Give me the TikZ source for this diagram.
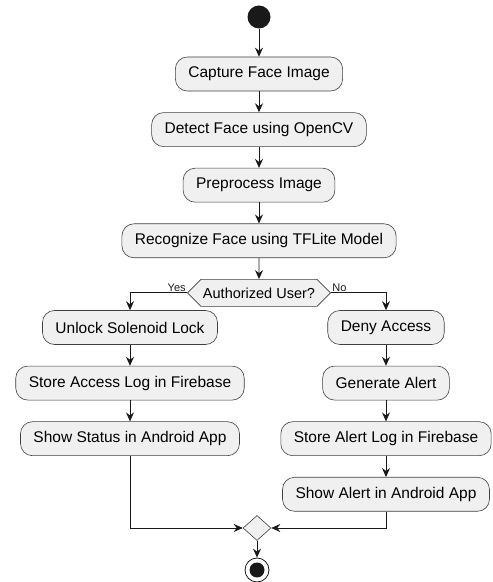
\documentclass[tikz,border=0pt]{standalone}
\usepackage{fontspec}
\setmainfont{Liberation Sans}
\usetikzlibrary{positioning,arrows.meta,shapes.geometric,shapes.symbols}

\tikzset{
  act/.style={draw=black!75, line width=0.6pt, fill=black!6, rounded corners=12pt,
    minimum height=34pt, inner xsep=13pt, font=\fontsize{15.5}{18}\selectfont},
  flow/.style={-{Stealth[length=9pt,width=8pt,inset=3pt]}, line width=0.9pt, black!90},
}

\begin{document}
\begin{tikzpicture}[auto, node distance=21pt]
        \useasboundingbox (0,0) rectangle (493pt,582pt);
        % Define states
        \node[circle, fill=black!90, minimum size=23pt, inner sep=0pt] (Start) at (259pt,565pt) {};
        \node[act] (Capture) [below=28pt of Start] {Capture Face Image};
        \node[act] (Detect) [below=of Capture] {Detect Face using OpenCV};
        \node[act] (Preprocess) [below=of Detect] {Preprocess Image};
        \node[act] (Recognize) [below=of Preprocess] {Recognize Face using TFLite Model};
        \node[signal, signal to=west and east, draw=black!75, line width=0.6pt, fill=black!6,
          minimum height=27pt, inner xsep=2pt, font=\fontsize{14.5}{17}\selectfont] (Auth) [below=of Recognize] {Authorized User?};

        % yes branch
        \node[act] (Unlock) at (130pt,254.5pt) {Unlock Solenoid Lock};
        \node[act] (StoreLog) [below=of Unlock] {Store Access Log in Firebase};
        \node[act] (ShowStatus) [below=of StoreLog] {Show Status in Android App};

        % no branch
        \node[act] (Deny) at (386pt,254.5pt) {Deny Access};
        \node[act] (Alert) [below=of Deny] {Generate Alert};
        \node[act] (StoreAlert) [below=of Alert] {Store Alert Log in Firebase};
        \node[act] (ShowAlert) [below=of StoreAlert] {Show Alert in Android App};

        \node[diamond, draw=black!75, line width=0.6pt, fill=black!6, minimum width=28pt,
          minimum height=25pt, inner sep=0pt] (Merge) at (257pt,54pt) {};
        \node[circle, draw=black!90, line width=0.8pt, minimum size=24pt, inner sep=0pt] (End) at (257pt,12pt) {};
        \node[circle, fill=black!90, minimum size=15pt, inner sep=0pt] (EndDot) at (End) {};

        % Define transitions
        \path[flow]
        (Start) edge (Capture)
        (Capture) edge (Detect)
        (Detect) edge (Preprocess)
        (Preprocess) edge (Recognize)
        (Recognize) edge (Auth)
        (Unlock) edge (StoreLog)
        (StoreLog) edge (ShowStatus)
        (Deny) edge (Alert)
        (Alert) edge (StoreAlert)
        (StoreAlert) edge (ShowAlert)
        (Merge) edge (End);

        \draw[flow] (Auth.west) -| node[pos=0, anchor=south east, inner sep=1pt, font=\fontsize{11}{12}\selectfont] {Yes} (Unlock.north);
        \draw[flow] (Auth.east) -| node[pos=0, anchor=south west, inner sep=1pt, font=\fontsize{11}{12}\selectfont] {No} (Deny.north);
        \draw[flow] (ShowStatus.south) |- (Merge.west);
        \draw[flow] (ShowAlert.south) |- (Merge.east);
    \end{tikzpicture}
\end{document}
